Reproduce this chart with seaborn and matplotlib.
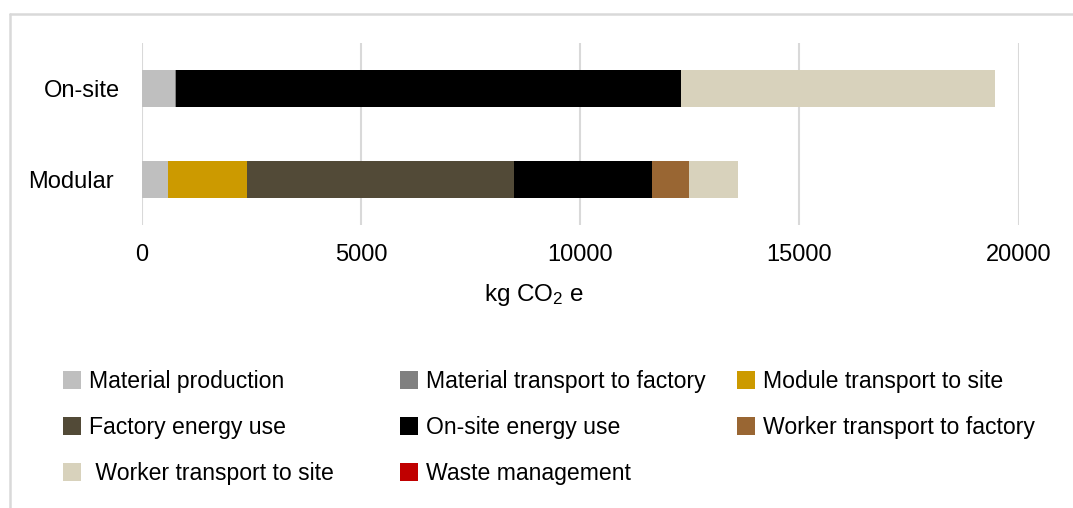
import matplotlib
matplotlib.use("Agg")
import matplotlib.pyplot as plt
import matplotlib.transforms as mtransforms
from matplotlib.patches import Patch
from matplotlib.lines import Line2D
import seaborn as sns
import pandas as pd
import numpy as np

# Construction methods compared
methods = ["On-site", "Modular"]

# Emission components (kg CO2 e), in stacking order
components = [
    "Material production",
    "Material transport to factory",
    "Module transport to site",
    "Factory energy use",
    "On-site energy use",
    "Worker transport to factory",
    " Worker transport to site",
    "Waste management",
]
material_production = [760, 590]
material_transport = [10, 10]
module_transport = [0, 1800]
factory_energy = [0, 6090]
onsite_energy = [11520, 3150]
worker_factory = [0, 845]
worker_site = [7180, 1110]
waste_management = [5, 5]

colors = ["#BFBFBF", "#808080", "#CC9A00", "#524A37",
          "#000000", "#996633", "#D8D2BC", "#C00000"]

x_ticks = [0, 5000, 10000, 15000, 20000]

sns.set_theme(style="white")
plt.rcParams["font.family"] = ["Liberation Sans", "DejaVu Sans"]
plt.rcParams["mathtext.default"] = "regular"
plt.rcParams["text.color"] = "#000000"

series = [material_production, material_transport, module_transport,
          factory_energy, onsite_energy, worker_factory, worker_site,
          waste_management]
cumulative = np.cumsum(np.array(series, dtype=float), axis=0)

fig = plt.figure(figsize=(10.73, 5.08), dpi=100)
W, H = 1073, 508
ax = fig.add_axes([142 / W, 1 - 225 / H, (1018.5 - 142) / W, (225 - 43) / H])

# Stacked bars: draw running totals from the largest down so each
# component shows as its own segment
for i in reversed(range(len(components))):
    df = pd.DataFrame({"method": methods, "total": cumulative[i]})
    sns.barplot(data=df, x="total", y="method", color=colors[i],
                saturation=1, width=0.4, errorbar=None, linewidth=0,
                orient="h", ax=ax)

ax.set_xlim(0, 20000)
ax.set_ylim(1.5, -0.5)
ax.set_xticks(x_ticks)
ax.set_xticklabels([str(t) for t in x_ticks])
ax.set_ylabel("")
ax.set_axisbelow(True)
ax.grid(axis="x", color="#D9D9D9", linewidth=1.5)
ax.grid(axis="y", visible=False)
for s in ax.spines.values():
    s.set_visible(False)
ax.tick_params(axis="x", length=0, pad=14, labelsize=17, labelcolor="#000000")
ax.tick_params(axis="y", length=0, pad=17, labelsize=17, labelcolor="#000000")

# small horizontal nudges for the category labels
for lab, dx in zip(ax.get_yticklabels(), [2, -5]):
    lab.set_transform(lab.get_transform() +
                      mtransforms.ScaledTranslation(dx / 100, 0, fig.dpi_scale_trans))

ax.set_xlabel("kg CO$_2$ e", fontsize=17.5, color="#000000")
ax.xaxis.set_label_coords((534 - 142) / (1018.5 - 142), -(295 - 225) / (225 - 43))
ax.xaxis.label.set_va("center")

# Chart frame
fig.add_artist(Line2D([9.7 / W, 9.7 / W], [0, 1 - 14 / H], color="#D9D9D9",
                      linewidth=1.8, transform=fig.transFigure))
fig.add_artist(Line2D([9.7 / W, 1], [1 - 14 / H, 1 - 14 / H], color="#D9D9D9",
                      linewidth=1.8, transform=fig.transFigure))

# Legend in three columns
handles = [Patch(facecolor=c, edgecolor="none") for c in colors]
columns = [[0, 3, 6], [1, 4, 7], [2, 5]]
col_x = [62.7, 400, 737.3]
for cx, idx in zip(col_x, columns):
    leg = fig.legend([handles[k] for k in idx], [components[k] for k in idx],
                     loc="upper left", bbox_to_anchor=(cx / W, 1 - 370 / H),
                     bbox_transform=fig.transFigure, frameon=False,
                     borderpad=0, borderaxespad=0, fontsize=16.6,
                     handlelength=0.78, handleheight=0.83,
                     handletextpad=0.35, labelspacing=1.0,
                     labelcolor="#000000")

fig.savefig("out.png", dpi=100)
